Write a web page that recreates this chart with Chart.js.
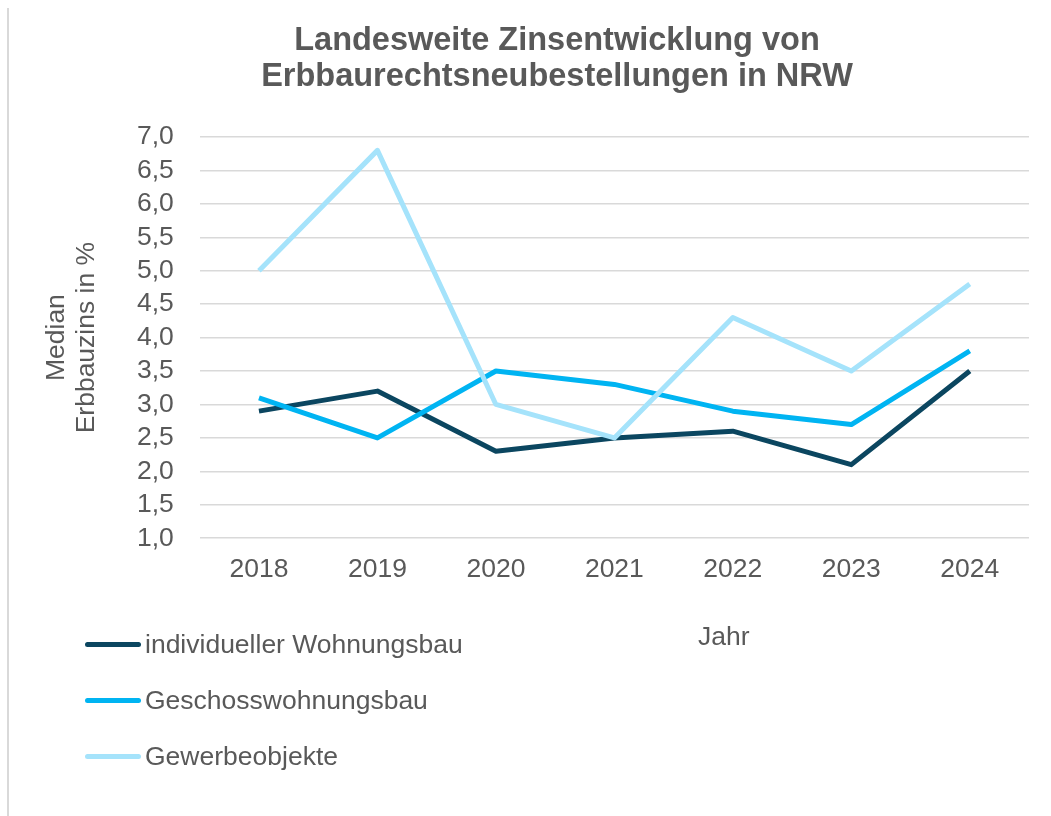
<!DOCTYPE html>
<html>
<head>
<meta charset="utf-8">
<script src="https://cdn.jsdelivr.net/npm/chart.js@4"></script>
<style>
  body { margin: 0; background: #fff; }
  #wrap { position: relative; width: 1051px; height: 816px; background: #fff; font-family: "Liberation Sans", Arial, sans-serif; color: #595959; }
  #edge { position: absolute; left: 7px; top: 8px; bottom: 0; width: 2px; background: #d9d9d9; }
  #chartBox { position: absolute; left: 0; top: 0; width: 1051px; height: 816px; }
  #title { position: absolute; left: 357px; width: 400px; top: 21px; text-align: center; white-space: nowrap;
           font-size: 32.5px; font-weight: bold; line-height: 36px; }
  #title div { margin-left: -200px; margin-right: -200px; }
  #legend { position: absolute; left: 85px; top: 616px; }
  .item { display: flex; align-items: center; height: 56px; font-size: 26.5px; line-height: 30px; }
  .swatch { width: 56px; height: 5px; border-radius: 3px; margin-right: 4px; }
  #xtitle { position: absolute; left: 698px; top: 621px; font-size: 26.5px; line-height: 30px; }
</style>
</head>
<body>
<div id="wrap">
  <div id="edge"></div>
  <div id="chartBox"><canvas id="chart"></canvas></div>
  <div id="title"><div>Landesweite Zinsentwicklung von</div><div>Erbbaurechtsneubestellungen in NRW</div></div>
  <div id="legend"></div>
  <div id="xtitle">Jahr</div>
</div>
<script>
const years = ["2018", "2019", "2020", "2021", "2022", "2023", "2024"];
const individuell = [2.9, 3.2, 2.3, 2.5, 2.6, 2.1, 3.5];
const geschoss = [3.1, 2.5, 3.5, 3.3, 2.9, 2.7, 3.8];
const gewerbe = [5.0, 6.8, 3.0, 2.5, 4.3, 3.5, 4.8];

const seriesNames = ["individueller Wohnungsbau", "Geschosswohnungsbau", "Gewerbeobjekte"];
const seriesColors = ["#0b4660", "#00b4f2", "#a5e3fb"];
const textColor = "#595959";
const font = "'Liberation Sans', Arial, sans-serif";

const datasets = [individuell, geschoss, gewerbe].map((values, i) => ({
  label: seriesNames[i],
  data: values,
  borderColor: seriesColors[i],
  backgroundColor: seriesColors[i],
  borderWidth: 5,
  borderJoinStyle: "round",
  pointRadius: 0,
  tension: 0,
  order: 3 - i, // later series drawn on top
}));

// legend as html, one row per series
const legend = document.getElementById("legend");
seriesNames.forEach((name, i) => {
  const row = document.createElement("div");
  row.className = "item";
  row.innerHTML = '<span class="swatch" style="background:' + seriesColors[i] + '"></span>' + name;
  legend.appendChild(row);
});

new Chart(document.getElementById("chart"), {
  type: "line",
  data: { labels: years, datasets: datasets },
  options: {
    responsive: true,
    maintainAspectRatio: false,
    animation: false,
    layout: { padding: { left: 40, right: 22, top: 137, bottom: 214 } },
    plugins: {
      legend: { display: false },
      tooltip: { enabled: false },
    },
    scales: {
      x: {
        offset: true,
        grid: { display: false, drawTicks: false },
        border: { display: false },
        ticks: { color: textColor, font: { family: font, size: 26.5 }, padding: 16 },
      },
      y: {
        min: 1,
        max: 7,
        grid: { color: "#d9d9d9", lineWidth: 1.5, drawTicks: false },
        border: { display: false },
        ticks: {
          stepSize: 0.5,
          autoSkip: false,
          color: textColor,
          padding: 26,
          font: { family: font, size: 26.5 },
          callback: (v) => v.toFixed(1).replace(".", ","),
        },
        title: {
          display: true,
          text: ["Median", "Erbbauzins in %"],
          color: textColor,
          font: { family: font, size: 26.5, lineHeight: 1.13 },
          padding: { top: 2, bottom: 9 },
        },
      },
    },
  },
});
</script>
</body>
</html>
